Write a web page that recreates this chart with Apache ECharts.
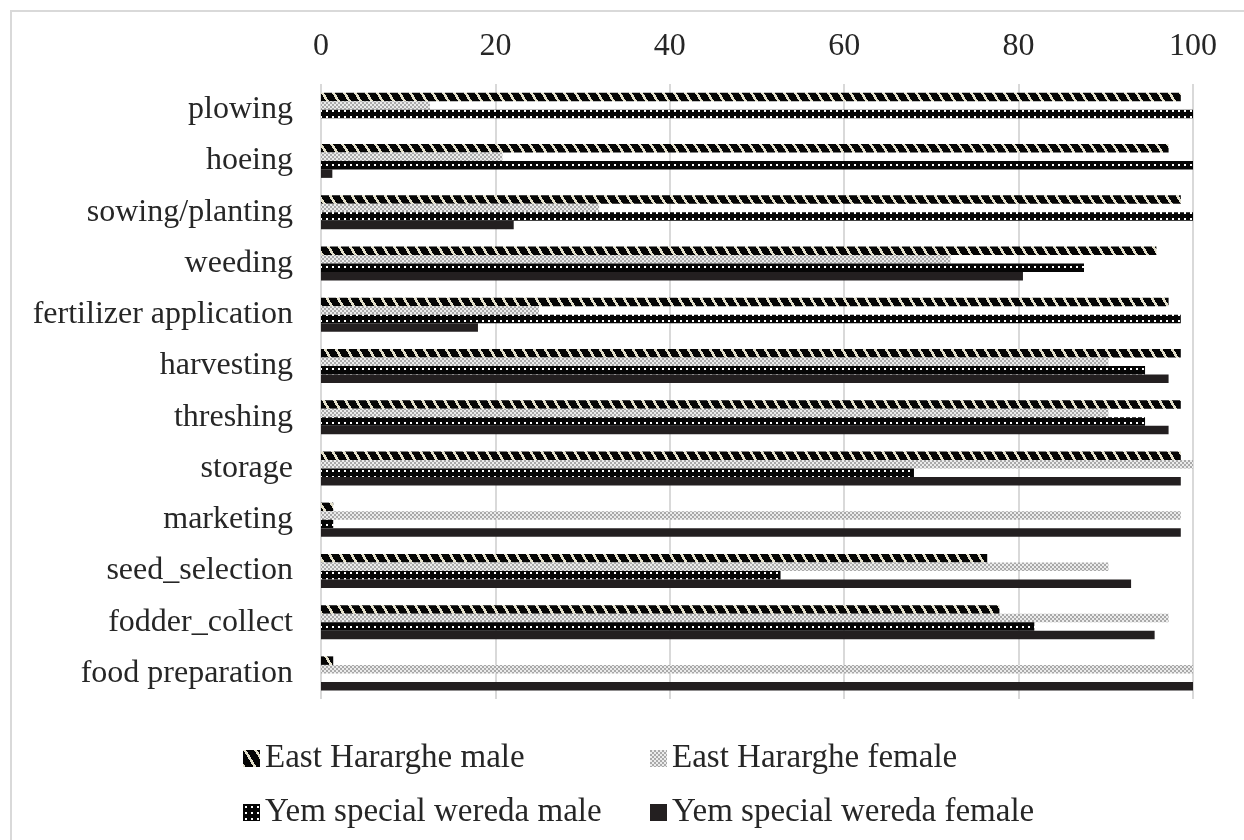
<!DOCTYPE html>
<html>
<head>
<meta charset="utf-8">
<style>
  html, body { margin: 0; padding: 0; background: #fff; }
  #chart { width: 1244px; height: 840px; }
</style>
<script src="https://cdn.jsdelivr.net/npm/echarts@6/dist/echarts.min.js"></script>
</head>
<body>
<div id="chart"></div>
<script>
// Share (%) of respondents taking part in each farm activity
const categories = ['plowing', 'hoeing', 'sowing/planting', 'weeding', 'fertilizer application',
  'harvesting', 'threshing', 'storage', 'marketing', 'seed_selection', 'fodder_collect', 'food preparation'];
const seriesNames = ['East Hararghe male', 'East Hararghe female', 'Yem special wereda male', 'Yem special wereda female'];
const ehMale    = [98.6, 97.2, 98.6, 95.8, 97.2, 98.6, 98.6, 98.6, 1.4, 76.4, 77.8, 1.4];
const ehFemale  = [12.5, 20.8, 31.9, 72.2, 25.0, 90.3, 90.3, 100, 98.6, 90.3, 97.2, 100];
const yemMale   = [100, 100, 100, 87.5, 98.6, 94.5, 94.5, 68.0, 1.4, 52.7, 81.8, 0];
const yemFemale = [0, 1.3, 22.1, 80.5, 18.0, 97.2, 97.2, 98.6, 98.6, 92.9, 95.6, 100];
const xTicks = [0, 20, 40, 60, 80, 100];

// Pixel tile helper: fn(x, y) returns a colour for each pixel of the tile
function makeTile(w, h, fn) {
  const c = document.createElement('canvas');
  c.width = w; c.height = h;
  const ctx = c.getContext('2d');
  for (let y = 0; y < h; y++) {
    for (let x = 0; x < w; x++) {
      ctx.fillStyle = fn(x, y);
      ctx.fillRect(x, y, 1, 1);
    }
  }
  return c;
}

// Back-slanted black stripes on khaki
const stripeTile = makeTile(11, 18, (x, y) => {
  let u = (x - y * 11 / 18) % 11;
  if (u < 0) u += 11;
  return u < 3 ? '#e3dfca' : '#050505';
});
// Fine grey checks
const checkTile = makeTile(4, 4, (x, y) => {
  const a = Math.floor(x / 2), b = Math.floor(y / 2);
  return (a + b) % 2 === 0 ? '#a9a9a9' : '#ececec';
});
// Black with white dots
const dotTile = makeTile(6, 6, (x, y) => {
  if ((x === 2 || x === 3) && (y === 2 || y === 3)) return '#ffffff';
  return '#050505';
});

const fills = [
  { image: stripeTile, repeat: 'repeat' },
  { image: checkTile, repeat: 'repeat' },
  { image: dotTile, repeat: 'repeat' },
  '#231f20'
];
const values = [ehMale, ehFemale, yemMale, yemFemale];

const font = 'Liberation Serif';
const textColor = '#262626';

const chart = echarts.init(document.getElementById('chart'), null, { renderer: 'canvas' });

function legendAt(name, left, top) {
  return {
    data: [name],
    left: left,
    top: top,
    icon: 'rect',
    itemWidth: 17,
    itemHeight: 17,
    selectedMode: false,
    textStyle: { fontFamily: font, fontSize: 33, color: textColor }
  };
}

chart.setOption({
  backgroundColor: '#ffffff',
  animation: false,
  graphic: [{
    type: 'polyline',
    shape: { points: [[11, 840], [11, 11], [1244, 11]] },
    style: { stroke: '#d9d9d9', lineWidth: 2, fill: null }
  }],
  legend: [
    legendAt(seriesNames[0], 238, 737),
    legendAt(seriesNames[1], 645, 737),
    legendAt(seriesNames[2], 238, 791),
    legendAt(seriesNames[3], 645, 791)
  ],
  grid: { left: 321, right: 51, top: 84, bottom: 141, containLabel: false },
  xAxis: {
    type: 'value',
    position: 'top',
    min: xTicks[0],
    max: xTicks[xTicks.length - 1],
    interval: 20,
    axisLine: { show: false },
    axisTick: { show: false },
    splitLine: { show: true, lineStyle: { color: '#d9d9d9', width: 2 } },
    axisLabel: { fontFamily: font, fontSize: 32, color: textColor, margin: 21 }
  },
  yAxis: {
    type: 'category',
    data: categories,
    inverse: true,
    axisLine: { show: false },
    axisTick: { show: false },
    splitLine: { show: false },
    axisLabel: { fontFamily: font, fontSize: 32, color: textColor, margin: 28 }
  },
  series: seriesNames.map((name, i) => ({
    name: name,
    type: 'bar',
    data: values[i],
    barWidth: 8.5,
    barGap: '0%',
    itemStyle: { color: fills[i] },
    emphasis: { disabled: true }
  }))
});
</script>
</body>
</html>
